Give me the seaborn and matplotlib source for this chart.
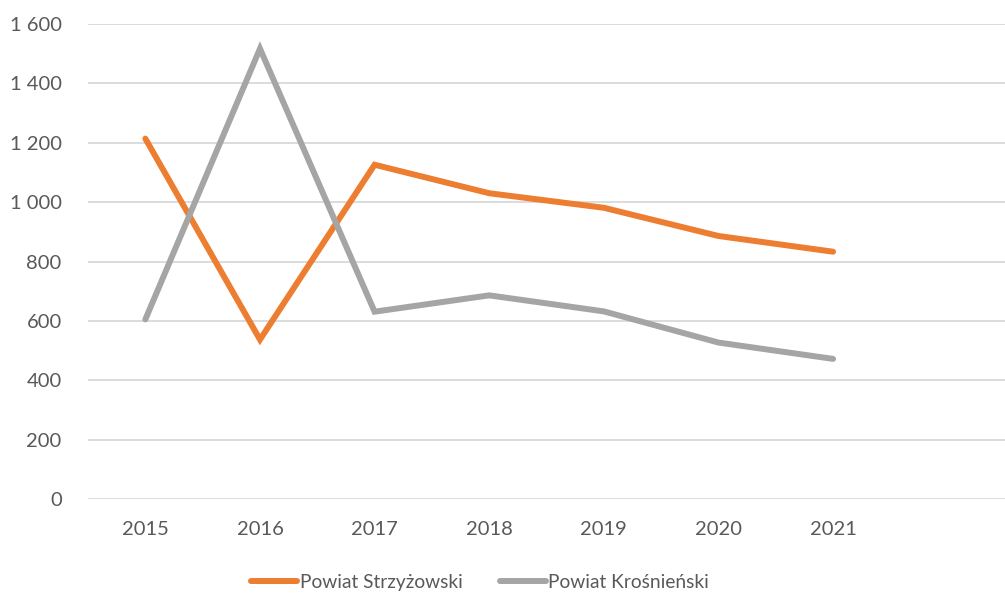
import matplotlib
matplotlib.use("Agg")
import matplotlib.pyplot as plt
import matplotlib.ticker as mticker
import seaborn as sns
import pandas as pd

# Dane
lata = ["2015", "2016", "2017", "2018", "2019", "2020", "2021"]
strzyzowski = [1214, 537, 1126, 1030, 981, 886, 833]
krosnienski = [605, 1517, 631, 686, 632, 527, 472]
serie = ["Powiat Strzyżowski", "Powiat Krośnieński"]
kolory = ["#ED7D31", "#A5A5A5"]

datos = pd.DataFrame({
    "rok": lata * 2,
    "wartosc": strzyzowski + krosnienski,
    "powiat": [serie[0]] * len(lata) + [serie[1]] * len(lata),
})

sns.set_style("white")
plt.rcParams["font.family"] = ["Lato", "DejaVu Sans"]

fig = plt.figure(figsize=(10.05, 5.93), dpi=100)
ax = fig.add_axes([0.0876, 0.1585, 0.9124, 0.801])

sns.lineplot(data=datos, x="rok", y="wartosc", hue="powiat",
             palette=kolory, linewidth=4.3, ax=ax, sort=False,
             solid_capstyle="round", solid_joinstyle="miter")

ax.set_xlim(-0.5, 7.5)
ax.set_ylim(0, 1600)
ax.yaxis.set_major_locator(mticker.MultipleLocator(200))
ax.yaxis.set_major_formatter(mticker.FuncFormatter(lambda v, p: f"{v:,.0f}".replace(",", " ")))
ax.grid(axis="y", color="#d9d9d9", linewidth=1.3)
ax.set_axisbelow(True)
for s in ax.spines.values():
    s.set_visible(False)
ax.tick_params(axis="both", length=0, labelsize=14.5, labelcolor="#595959")
ax.tick_params(axis="y", pad=19)
ax.tick_params(axis="x", pad=16)
ax.set_xlabel("")
ax.set_ylabel("")

ax.legend(loc="lower center", bbox_to_anchor=(0.478, -0.025), bbox_transform=fig.transFigure,
          ncol=2, frameon=False, fontsize=13.8, handlelength=2.4, handletextpad=0.15,
          columnspacing=1.9, labelcolor="#595959")

fig.savefig("out.png", dpi=100)
